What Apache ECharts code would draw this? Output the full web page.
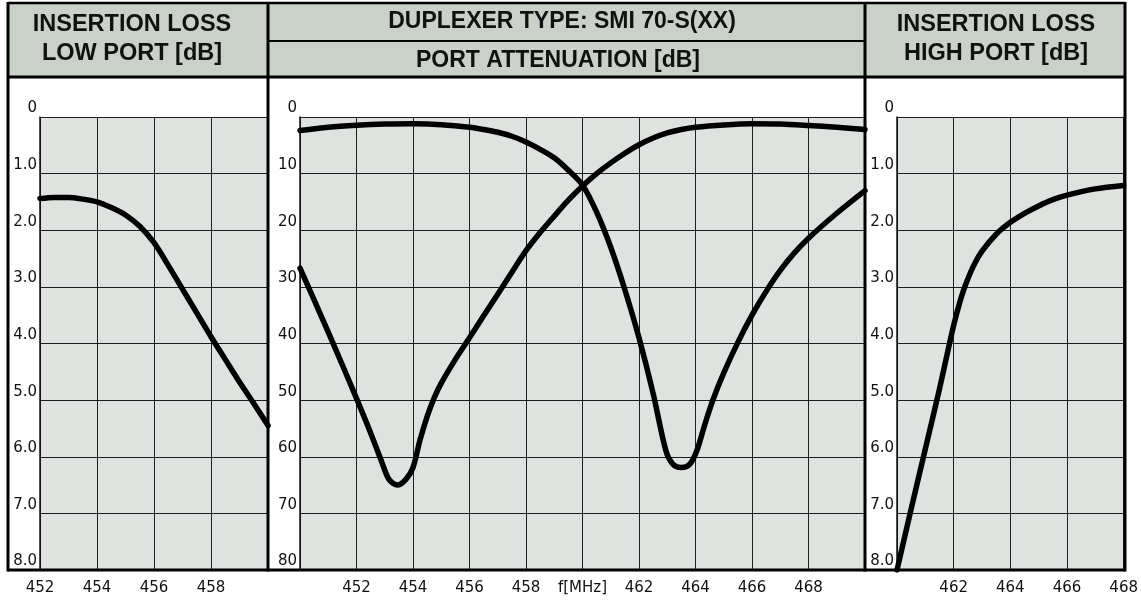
<!DOCTYPE html>
<html><head><meta charset="utf-8">
<script src="https://cdn.jsdelivr.net/npm/echarts/dist/echarts.min.js"></script>
<style>html,body{margin:0;padding:0;background:#fff}#c{width:1141px;height:602px}</style>
</head><body><div id="c"></div><script>
// ---- data ----
const lowPortFreq = [452, 452.5, 453, 453.5, 454, 454.5, 455, 455.5, 456, 456.5, 457, 457.5, 458, 458.5, 459, 459.5, 460];
const lowPortLoss = [1.44, 1.42, 1.42, 1.45, 1.5, 1.6, 1.73, 1.93, 2.22, 2.62, 3.04, 3.46, 3.88, 4.28, 4.68, 5.06, 5.45];

const attLowFreq = [450, 450.5, 451, 451.5, 452, 452.5, 452.9, 453.15, 453.45, 453.75, 454, 454.25, 454.5, 454.75, 455, 455.5, 456, 456.5, 457, 457.5, 458, 458.5, 459, 459.5, 460, 460.5, 461, 461.5, 462, 462.5, 463, 463.5, 464, 465, 466, 467, 468, 469, 470];
const attLowVal  = [26.7, 32.3, 38.0, 43.8, 49.7, 55.8, 61.0, 64.0, 65.0, 64.0, 61.9, 57.0, 52.9, 49.6, 47.0, 42.8, 39.0, 35.1, 31.3, 27.4, 23.6, 20.4, 17.5, 14.7, 12.2, 10.0, 8.1, 6.4, 4.9, 3.7, 2.8, 2.2, 1.8, 1.4, 1.2, 1.25, 1.5, 1.8, 2.2];

const attHighFreq = [450, 451, 452, 453, 454, 455, 456, 456.5, 457, 457.5, 458, 458.5, 459, 459.5, 460, 460.5, 461, 461.5, 462, 462.5, 462.95, 463.2, 463.5, 463.8, 464.05, 464.3, 464.6, 465, 465.5, 466, 466.5, 467, 467.5, 468, 469, 470];
const attHighVal  = [2.4, 1.8, 1.45, 1.25, 1.2, 1.35, 1.8, 2.2, 2.7, 3.4, 4.4, 5.7, 7.2, 9.4, 12.0, 16.8, 23.0, 30.5, 39.0, 48.8, 58.9, 61.3, 61.9, 61.3, 58.9, 54.8, 50.2, 45.2, 39.8, 35.0, 30.8, 27.1, 24.0, 21.4, 17.0, 13.0];

const highPortFreq = [460, 460.5, 461, 461.5, 461.8, 462, 462.2, 462.4, 462.7, 463, 463.5, 464, 464.5, 465, 465.5, 466, 467, 468];
const highPortLoss = [8.0, 6.92, 5.86, 4.8, 4.12, 3.68, 3.3, 2.99, 2.63, 2.37, 2.07, 1.86, 1.7, 1.57, 1.46, 1.38, 1.27, 1.21];

const lossTicks = [0, 1, 2, 3, 4, 5, 6, 7, 8];
const attTicks = [0, 10, 20, 30, 40, 50, 60, 70, 80];
const midAxisName = 'f[MHz]';
const titles = {
  left: ['INSERTION LOSS', 'LOW PORT [dB]'],
  mid: ['DUPLEXER TYPE: SMI 70-S(XX)', 'PORT ATTENUATION [dB]'],
  right: ['INSERTION LOSS', 'HIGH PORT [dB]']
};

// ---- chart ----
const pair = (xs, ys) => xs.map((x, i) => [x, ys[i]]);
const TICKFONT = 'DejaVu Sans';
const INK = '#111';
const PLOT_BG = '#dee3df';
const HEAD_BG = '#c9d1c9';

function yAx(gi, ticks, fmt) {
  return {
    gridIndex: gi, type: 'value', min: ticks[0], max: ticks[ticks.length - 1],
    interval: ticks[1] - ticks[0], inverse: true,
    axisLine: { show: true, lineStyle: { color: INK, width: 1.5 } },
    axisTick: { show: false },
    splitLine: { show: true, lineStyle: { color: '#1e1e1e', width: 1 } },
    axisLabel: { formatter: fmt, verticalAlign: 'bottom', margin: 3, fontSize: 15,
      color: INK, fontFamily: TICKFONT, padding: [0, 0, 1, 0] }
  };
}
function xAx(gi, min, max, fmt) {
  return {
    gridIndex: gi, type: 'value', min, max, interval: 2,
    axisLine: { show: false }, axisTick: { show: false },
    splitLine: { show: true, lineStyle: { color: '#1e1e1e', width: 1 } },
    axisLabel: { formatter: fmt, margin: 11, fontSize: 15, color: INK, fontFamily: TICKFONT }
  };
}
const lossFmt = v => v === 0 ? '0' : v.toFixed(1);
const attFmt = v => String(v);

function line(xi, data) {
  return { type: 'line', xAxisIndex: xi, yAxisIndex: xi, data, showSymbol: false, smooth: 0.3,
    clip: true, lineStyle: { color: '#000', width: 5.5, cap: 'round', join: 'round' }, z: 5 };
}

const TOP = 3, HEAD_B = 77, BOT = 570;
const xs = [8, 268, 865, 1125];
function ln(x1, y1, x2, y2, w) {
  return { type: 'line', shape: { x1, y1, x2, y2 }, style: { stroke: '#000', lineWidth: w }, z: 100 };
}
function txt(x, y, t, size) {
  return { type: 'text', x, y, style: { text: t, fill: '#111', font: 'bold ' + size + 'px "Liberation Sans", Arial, sans-serif',
    textAlign: 'center', textVerticalAlign: 'middle' }, z: 101 };
}

const graphics = [
  { type: 'rect', shape: { x: xs[0], y: TOP, width: xs[3] - xs[0], height: HEAD_B - TOP }, style: { fill: HEAD_BG }, z: 1 },
  ln(xs[0], TOP, xs[3], TOP, 2.5),
  ln(xs[0], HEAD_B, xs[3], HEAD_B, 3),
  ln(xs[1], 41, xs[2], 41, 2),
  ln(xs[0], BOT, xs[3], BOT, 3),
  ln(xs[0], TOP - 1, xs[0], BOT + 1.5, 3),
  ln(xs[1], TOP - 1, xs[1], BOT + 1.5, 3),
  ln(xs[2], TOP - 1, xs[2], BOT + 1.5, 3),
  ln(xs[3], TOP - 1, xs[3], BOT + 1.5, 3),
  txt(132, 25, titles.left[0], 23.5),
  txt(132, 54, titles.left[1], 23.5),
  txt(562, 22, titles.mid[0], 23),
  txt(558, 61, titles.mid[1], 23),
  txt(996, 25, titles.right[0], 23.5),
  txt(996, 54, titles.right[1], 23.5)
];

const option = {
  animation: false,
  backgroundColor: '#fff',
  grid: [
    { left: 40, top: 117, width: 228, height: 453, show: true, backgroundColor: PLOT_BG, borderWidth: 0 },
    { left: 300, top: 117, width: 565, height: 453, show: true, backgroundColor: PLOT_BG, borderWidth: 0 },
    { left: 897, top: 117, width: 228, height: 453, show: true, backgroundColor: PLOT_BG, borderWidth: 0 }
  ],
  xAxis: [
    xAx(0, 452, 460, v => v === 460 ? '' : String(v)),
    xAx(1, 450, 470, v => (v === 450 || v === 470) ? '' : (v === 460 ? midAxisName : String(v))),
    xAx(2, 460, 468, v => v === 460 ? '' : String(v))
  ],
  yAxis: [yAx(0, lossTicks, lossFmt), yAx(1, attTicks, attFmt), yAx(2, lossTicks, lossFmt)],
  series: [
    line(0, pair(lowPortFreq, lowPortLoss)),
    line(1, pair(attLowFreq, attLowVal)),
    line(1, pair(attHighFreq, attHighVal)),
    line(2, pair(highPortFreq, highPortLoss))
  ],
  graphic: graphics
};
const chart = echarts.init(document.getElementById('c'), null, { renderer: 'canvas' });
chart.setOption(option);
</script></body></html>
